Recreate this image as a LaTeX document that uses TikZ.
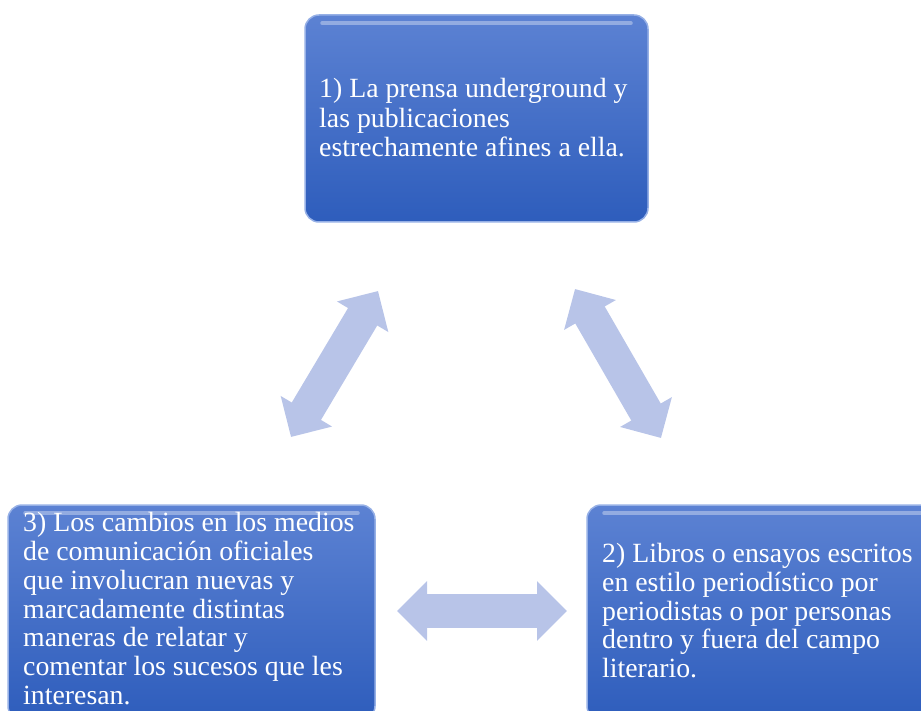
\documentclass[tikz,border=0pt]{standalone}
\usepackage{fontspec}
\setmainfont{Liberation Serif}
\usetikzlibrary{arrows.meta}
\begin{document}
\begin{tikzpicture}[x=1pt,y=-1pt,
    box/.style={rounded corners=14pt,draw=kEdge,line width=1.5pt,
      top color=kTop,bottom color=kBottom},
    gloss/.style={draw=white,opacity=0.35,line width=4pt,line cap=round},
    txt/.style={anchor=north west,inner sep=0pt,text=white,align=left,
      font=\fontsize{27.8}{29.3}\selectfont},
    biarrow/.style={draw=kArrow,line width=34pt,
      {Triangle[length=30pt,width=58pt]}-{Triangle[length=30pt,width=58pt]}}]
  \definecolor{kTop}{RGB}{92,130,211}
  \definecolor{kBottom}{RGB}{46,93,188}
  \definecolor{kEdge}{RGB}{150,176,230}
  \definecolor{kArrow}{RGB}{184,196,232}

  \useasboundingbox (0,0) rectangle (921,711);
  \clip (0,0) rectangle (921,711);

  \node[box,minimum width=343,minimum height=207] (prensa) at (476.5,118.5) {};
  \node[box,minimum width=356,minimum height=215] (libros) at (765,612.5) {};
  \node[box,minimum width=367,minimum height=215] (medios) at (191.5,612.5) {};
  \foreach \b in {prensa,libros,medios}
    \draw[gloss] ([shift={(18,9)}]\b.north west) -- ([shift={(-18,9)}]\b.north east);

  \node[txt] (prensa-t) at (319,78.5)
    {1) La prensa underground y\\ las publicaciones\\ estrechamente afines a ella.};
  \node[txt,font=\fontsize{27.8}{28.8}\selectfont] (libros-t) at (602,543)
    {2) Libros o ensayos escritos\\ en estilo periodístico por\\ periodistas o por personas\\
     dentro y fuera del campo\\ literario.};
  \node[txt,font=\fontsize{27.8}{28.7}\selectfont] (medios-t) at (23,512.5)
    {3) Los cambios en los medios\\ de comunicación oficiales\\ que involucran nuevas y\\
     marcadamente distintas\\ maneras de relatar y\\ comentar los sucesos que les\\ interesan.};

  \coordinate (lA) at (291,437);
  \coordinate (lB) at (378,291);
  \coordinate (rA) at (575,289);
  \coordinate (rB) at (661,438);
  \coordinate (bA) at (397,611);
  \coordinate (bB) at (567,611);
  \foreach \a/\b in {lA/lB,rA/rB,bA/bB}
    \draw[biarrow] (\a) -- (\b);
\end{tikzpicture}
\end{document}
